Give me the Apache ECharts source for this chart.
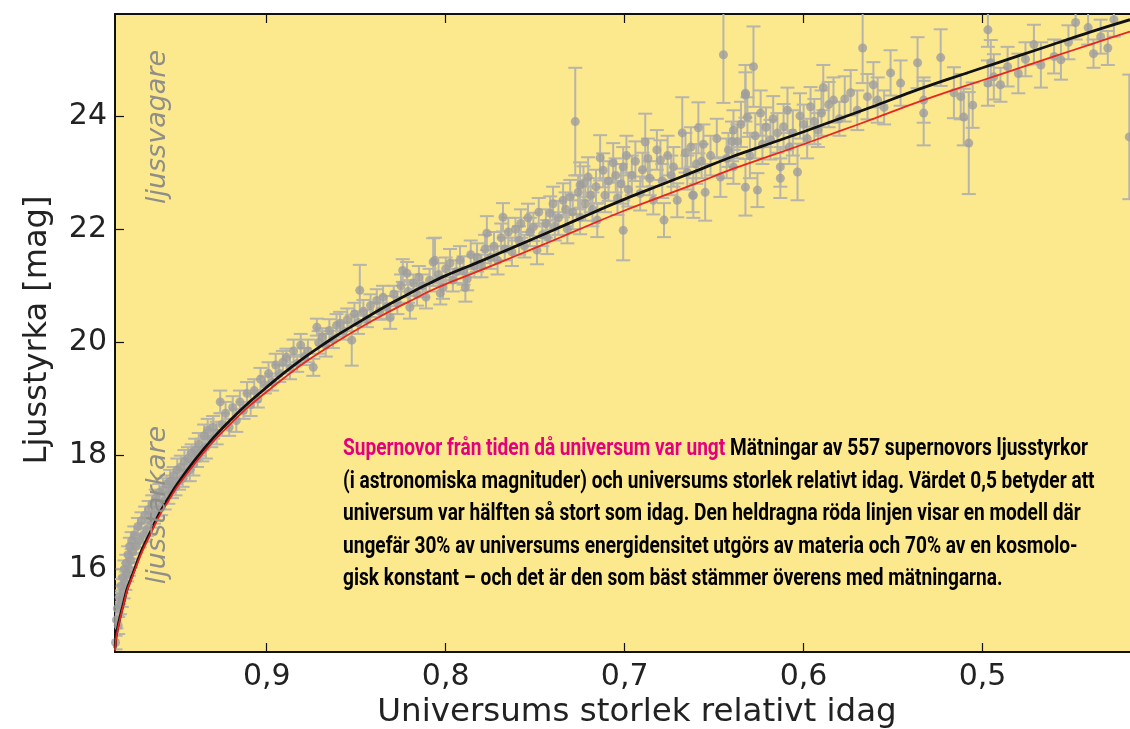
<!DOCTYPE html>
<html>
<head>
<meta charset="utf-8">
<script src="https://cdn.jsdelivr.net/npm/echarts@6/dist/echarts.min.js"></script>
<style>
html,body{margin:0;padding:0;background:#fff;}
#chart{width:1130px;height:729px;}
</style>
</head>
<body>
<div id="chart"></div>
<script>
// ---- DATA ----
const xTickValues = [0.9, 0.8, 0.7, 0.6, 0.5];
const yTickValues = [16, 18, 20, 22, 24];
const xAxisTitle = 'Universums storlek relativt idag';
const yAxisTitle = 'Ljusstyrka [mag]';
const fainterLabel = 'ljussvagare';
const brighterLabel = 'ljusstarkare';
const annotationTitle = 'Supernovor från tiden då universum var ungt';
const annotationLines = [
  'Mätningar av 557 supernovors ljusstyrkor',
  '(i astronomiska magnituder) och universums storlek relativt idag. Värdet 0,5 betyder att',
  'universum var hälften så stort som idag. Den heldragna röda linjen visar en modell där',
  'ungefär 30% av universums energidensitet utgörs av materia och 70% av en kosmolo-',
  'gisk konstant – och det är den som bäst stämmer överens med mätningarna.'
];

// model curves: scale factor, black curve, red curve (mag)
const modelScale = [0.9848,0.984,0.982,0.98,0.978,0.975,0.97,0.965,0.96,0.955,0.95,0.94,0.93,0.92,0.91,0.90,0.89,0.88,0.87,0.86,0.85,0.84,0.83,0.82,0.81,0.80,0.78,0.76,0.74,0.72,0.70,0.68,0.66,0.64,0.62,0.60,0.58,0.56,0.54,0.52,0.50,0.48,0.46,0.44,0.4176];
const modelBlack = [14.6,14.85,15.15,15.4,15.65,15.9,16.32,16.65,16.98,17.25,17.5,17.93,18.31,18.64,18.94,19.21,19.47,19.71,19.93,20.14,20.33,20.52,20.70,20.87,21.03,21.18,21.44,21.71,21.98,22.26,22.53,22.78,23.03,23.28,23.50,23.72,23.95,24.18,24.42,24.64,24.85,25.06,25.27,25.48,25.70];
const modelRed = [14.56,14.81,15.11,15.37,15.62,15.87,16.28,16.61,16.94,17.2,17.45,17.87,18.25,18.57,18.87,19.13,19.38,19.62,19.83,20.03,20.22,20.40,20.57,20.73,20.89,21.03,21.28,21.54,21.80,22.07,22.33,22.57,22.81,23.06,23.28,23.50,23.73,23.96,24.20,24.42,24.63,24.84,25.05,25.26,25.49];

// supernovae: [scale factor, magnitude, error]
const supernovae = [
[0.9845,14.7,0.12],[0.984,15.1,0.15],[0.9835,15.3,0.12],[0.983,15.0,0.15],[0.9825,15.5,0.12],[0.982,15.35,0.15],[0.9815,15.7,0.12],[0.981,15.45,0.12],[0.9805,15.85,0.15],[0.980,15.6,0.12],[0.9795,16.0,0.15],[0.979,15.75,0.12],[0.9785,16.1,0.15],[0.978,15.9,0.12],[0.9775,16.25,0.15],[0.977,16.0,0.12],[0.9765,16.4,0.15],[0.976,16.15,0.12],[0.9755,16.5,0.15],[0.975,16.3,0.12],[0.974,16.6,0.15],[0.973,16.4,0.12],[0.972,16.75,0.15],[0.971,16.5,0.12],[0.970,16.85,0.15],[0.969,16.6,0.12],[0.968,16.95,0.15],[0.967,16.7,0.12],[0.966,17.05,0.15],[0.965,16.85,0.12],[0.964,17.15,0.15],[0.963,16.95,0.15],[0.962,17.25,0.15],[0.961,17.05,0.12],[0.960,17.35,0.15],[0.959,17.1,0.15],[0.958,17.4,0.2],[0.957,17.2,0.15],[0.956,17.5,0.15],[0.955,17.3,0.15],[0.954,17.55,0.2],[0.953,17.4,0.15],[0.952,17.65,0.15],[0.951,17.45,0.15],[0.950,17.75,0.2],[0.949,17.55,0.15],[0.948,17.8,0.2],[0.947,17.6,0.15],[0.946,17.9,0.2],[0.945,17.7,0.15],[0.944,17.95,0.2],[0.943,17.75,0.2],[0.942,18.05,0.15],[0.941,17.85,0.2],[0.940,18.1,0.2],[0.939,17.95,0.15],[0.938,18.2,0.2],[0.936,18.1,0.2],[0.935,18.35,0.2],[0.934,18.15,0.2],[0.933,18.45,0.2],[0.931,18.3,0.15],[0.930,18.5,0.2],[0.928,18.4,0.2],[0.926,18.95,0.2],[0.925,18.55,0.2],[0.923,18.75,0.2],[0.921,18.5,0.15],[0.919,18.85,0.2],[0.917,18.62,0.2],[0.915,18.95,0.2],[0.913,18.8,0.15],[0.911,19.1,0.2],[0.909,18.9,0.2],[0.907,19.15,0.2],[0.905,19.0,0.15],
[0.9035,19.35,0.2],[0.901,19.25,0.15],[0.899,19.45,0.2],[0.897,19.3,0.15],[0.895,19.6,0.2],[0.893,19.45,0.15],[0.891,19.65,0.2],[0.889,19.74,0.15],[0.887,19.55,0.2],[0.885,19.85,0.2],[0.883,19.63,0.15],[0.881,19.95,0.2],[0.879,19.75,0.15],[0.877,19.85,0.2],[0.874,19.56,0.15],[0.872,20.27,0.15],[0.871,20.0,0.2],[0.869,20.1,0.15],[0.867,19.95,0.2],[0.865,20.21,0.2],[0.863,20.05,0.15],[0.861,20.3,0.2],[0.859,20.34,0.2],[0.857,20.2,0.15],[0.855,20.4,0.2],[0.8525,20.04,0.45],[0.851,20.5,0.2],[0.849,20.35,0.2],[0.848,20.92,0.45],[0.846,20.55,0.2],[0.844,20.42,0.15],[0.842,20.65,0.2],[0.8385,20.74,0.2],[0.837,20.55,0.15],[0.835,20.8,0.2],[0.833,20.62,0.2],[0.831,20.44,0.2],[0.829,20.85,0.15],[0.827,20.7,0.2],[0.825,21.0,0.2],[0.824,21.27,0.2],[0.8216,21.22,0.2],[0.821,20.9,0.2],[0.820,20.62,0.2],[0.818,21.05,0.15],[0.816,20.85,0.2],[0.815,21.15,0.2],[0.813,21.0,0.2],[0.811,20.8,0.2],[0.809,21.1,0.2],[0.807,21.42,0.42],[0.806,21.45,0.4],[0.804,21.2,0.2],[0.803,20.87,0.2],[0.8015,20.97,0.2],[0.800,21.3,0.2],[0.7976,21.4,0.25],[0.796,21.1,0.2],[0.794,21.25,0.2],[0.792,21.45,0.25],[0.790,21.27,0.25],[0.789,20.97,0.25],[0.788,21.12,0.2],[0.786,21.55,0.25],[0.784,21.35,0.2],[0.7825,21.5,0.25],[0.780,21.35,0.2],[0.778,21.65,0.25],[0.777,21.93,0.3],[0.775,21.5,0.2],[0.773,21.7,0.25],[0.771,21.45,0.25],
[0.769,21.85,0.25],[0.768,22.21,0.25],[0.767,21.65,0.2],[0.765,21.95,0.25],[0.763,21.6,0.25],[0.761,22.0,0.2],[0.759,21.8,0.25],[0.758,22.1,0.25],[0.756,21.7,0.2],[0.754,22.2,0.25],[0.753,21.95,0.25],[0.751,22.04,0.25],[0.749,21.63,0.25],[0.748,22.3,0.25],[0.746,21.9,0.2],[0.744,22.1,0.25],[0.7433,21.86,0.3],[0.7416,22.28,0.3],[0.740,22.45,0.3],[0.739,22.05,0.25],[0.737,22.2,0.3],[0.7344,22.51,0.3],[0.733,22.35,0.3],[0.732,22.0,0.25],[0.7304,22.57,0.3],[0.729,22.3,0.3],[0.7276,23.9,0.95],[0.726,22.65,0.3],[0.7249,22.78,0.4],[0.7249,22.21,0.3],[0.723,22.81,0.3],[0.722,22.45,0.3],[0.7204,22.92,0.35],[0.719,22.6,0.3],[0.718,22.35,0.3],[0.716,22.75,0.3],[0.7153,22.16,0.3],[0.7137,23.26,0.4],[0.712,23.04,0.3],[0.711,22.6,0.3],[0.709,22.85,0.35],[0.7064,23.17,0.35],[0.705,22.95,0.3],[0.704,22.55,0.3],[0.702,22.8,0.35],[0.7008,23.1,0.35],[0.7008,21.98,0.53],[0.699,23.3,0.35],[0.698,22.7,0.3],[0.696,22.95,0.35],[0.694,23.2,0.35],[0.6913,22.63,0.3],[0.690,23.05,0.3],[0.6885,23.54,0.5],[0.687,23.25,0.35],[0.686,22.9,0.3],[0.684,22.51,0.25],[0.682,23.4,0.35],[0.680,23.22,0.35],[0.679,22.85,0.3],[0.678,22.16,0.3],[0.676,23.3,0.35],[0.674,22.95,0.35],[0.6727,23.1,0.35],[0.6706,22.51,0.3],[0.6678,23.7,0.63],[0.666,23.35,0.35],[0.665,23.0,0.3],[0.663,23.45,0.35],[0.662,22.6,0.3],[0.6616,22.6,0.4],[0.660,23.15,0.35],[0.6588,23.79,0.45],[0.657,23.2,0.3],[0.656,23.5,0.35],[0.655,22.65,0.5],[0.652,23.3,0.35],
[0.6485,23.6,0.35],[0.6465,22.92,0.35],[0.6448,25.08,0.85],[0.643,23.25,0.35],[0.642,23.4,0.3],[0.640,23.55,0.35],[0.6392,23.75,0.35],[0.6392,23.1,0.3],[0.637,23.55,0.3],[0.635,23.85,0.4],[0.6325,24.4,0.5],[0.6325,22.74,0.5],[0.6325,24.37,0.4],[0.6314,23.98,0.35],[0.630,23.3,0.4],[0.628,24.87,0.71],[0.627,23.65,0.4],[0.6258,22.69,0.3],[0.624,24.05,0.4],[0.623,23.5,0.35],[0.621,23.8,0.35],[0.6185,23.58,0.35],[0.617,23.95,0.4],[0.6146,23.7,0.35],[0.613,23.1,0.35],[0.613,22.9,0.35],[0.6112,23.81,0.4],[0.609,24.1,0.4],[0.608,23.45,0.3],[0.606,23.7,0.4],[0.6034,23.01,0.5],[0.602,24.0,0.4],[0.600,23.85,0.35],[0.598,23.6,0.35],[0.5961,24.16,0.35],[0.594,23.9,0.4],[0.592,23.75,0.3],[0.590,24.05,0.4],[0.589,24.5,0.4],[0.586,24.2,0.4],[0.5833,24.28,0.4],[0.580,23.95,0.3],[0.577,24.3,0.4],[0.5737,24.41,0.4],[0.570,24.1,0.35],[0.567,25.2,0.62],[0.5643,24.34,0.4],[0.561,24.55,0.4],[0.5586,24.28,0.4],[0.555,24.15,0.3],
[0.5514,24.76,0.4],[0.5458,24.58,0.4],[0.5363,24.94,0.45],[0.5329,24.05,0.57],[0.5329,24.28,0.4],[0.5234,25.03,0.5],[0.516,24.41,0.45],[0.5122,24.34,0.4],[0.5105,23.98,0.5],[0.5077,23.52,0.9],[0.5055,24.19,0.4],[0.497,25.52,0.3],[0.497,24.58,0.4],[0.4954,24.94,0.4],[0.4937,24.69,0.4],[0.490,24.55,0.3],[0.486,24.87,0.35],[0.480,24.75,0.35],[0.476,25.0,0.3],[0.4713,25.26,0.35],[0.4674,24.9,0.4],[0.460,25.05,0.3],[0.4562,24.99,0.35],[0.452,25.3,0.3],[0.448,25.65,0.3],[0.441,25.56,0.3],[0.438,25.1,0.25],[0.434,25.4,0.3],[0.430,25.2,0.3],[0.4266,25.7,0.3],[0.418,23.63,1.1]
];

// ---- CHART ----
const GRID = {left:115, top:14, right:0, bottom:77};
const chart = echarts.init(document.getElementById('chart'), null, {renderer:'canvas'});

const fmtX = v => v.toFixed(1).replace('.', ',');

// condensed bold text via horizontal scaling
const annFont = 'bold 24px Roboto';
const mctx = document.createElement('canvas').getContext('2d');
mctx.font = annFont;
const line1Full = annotationTitle + ' ' + annotationLines[0];
const annScale = 745 / mctx.measureText(line1Full).width;
const titleW = mctx.measureText(annotationTitle + ' ').width * annScale;

const annX = 343, annY = 437, annLH = 32.5;
const annGraphics = [];
annGraphics.push({type:'text', x:annX, y:annY, scaleX:annScale, originX:0, z:100,
  style:{text:annotationTitle, font:annFont, fill:'#e4007c', verticalAlign:'top'}});
annotationLines.forEach((t, i) => {
  annGraphics.push({type:'text', x: i === 0 ? annX + titleW : annX, y: annY + i*annLH,
    scaleX:annScale, originX:0, z:100,
    style:{text:t, font:annFont, fill:'#000', verticalAlign:'top'}});
});

const option = {
  animation:false,
  backgroundColor:'#ffffff',
  grid:{left:GRID.left, top:GRID.top, right:GRID.right, bottom:GRID.bottom, show:true, backgroundColor:'#fde98d', borderWidth:0},
  xAxis:[{
    type:'value', inverse:true, min:0.4176, max:0.9848, position:'bottom',
    axisLine:{show:true, onZero:false, lineStyle:{color:'#111', width:2}},
    axisTick:{show:true, inside:true, length:9, lineStyle:{color:'#111', width:1.2}, customValues:xTickValues},
    axisLabel:{show:true, customValues:xTickValues, formatter:fmtX, margin:10, color:'#222', fontFamily:'DejaVu Sans', fontSize:30},
    splitLine:{show:false}
  },{
    type:'value', inverse:true, min:0.4176, max:0.9848, position:'top',
    axisLine:{show:true, onZero:false, lineStyle:{color:'#111', width:2}},
    axisTick:{show:true, inside:true, length:9, lineStyle:{color:'#111', width:1.2}, customValues:xTickValues},
    axisLabel:{show:false},
    splitLine:{show:false}
  }],
  yAxis:[{
    type:'value', min:14.533, max:25.80, position:'left',
    axisLine:{show:true, onZero:false, lineStyle:{color:'#111', width:2}},
    axisTick:{show:true, inside:true, length:9, lineStyle:{color:'#111', width:1.2}, customValues:yTickValues},
    axisLabel:{show:true, customValues:yTickValues, margin:8, color:'#222', fontFamily:'DejaVu Sans', fontSize:30},
    splitLine:{show:false}
  }],
  series:[
    {
      type:'custom', name:'errorbars', clip:true, z:2,
      data: supernovae,
      encode:{x:0, y:1},
      renderItem:function(params, api){
        const x = api.value(0), y = api.value(1), e = api.value(2);
        const top = api.coord([x, y + e]);
        const bot = api.coord([x, y - e]);
        const hw = 7;
        const st = {stroke:'#b7b4aa', lineWidth:2};
        return {type:'group', children:[
          {type:'line', shape:{x1:top[0], y1:top[1], x2:bot[0], y2:bot[1]}, style:st},
          {type:'line', shape:{x1:top[0]-hw, y1:top[1], x2:top[0]+hw, y2:top[1]}, style:st},
          {type:'line', shape:{x1:bot[0]-hw, y1:bot[1], x2:bot[0]+hw, y2:bot[1]}, style:st}
        ]};
      }
    },
    {
      type:'scatter', name:'supernovae', z:3, symbol:'circle', symbolSize:9,
      data: supernovae.map(d => [d[0], d[1]]),
      itemStyle:{color:'#9e9e9e'},
      clip:true
    },
    {
      type:'line', name:'model black', z:4, showSymbol:false, smooth:0.3,
      data: modelScale.map((a, i) => [a, modelBlack[i]]),
      lineStyle:{color:'#111', width:2.8}, clip:true
    },
    {
      type:'line', name:'model red', z:5, showSymbol:false, smooth:0.3,
      data: modelScale.map((a, i) => [a, modelRed[i]]),
      lineStyle:{color:'#e8251e', width:1.8}, clip:true
    }
  ],
  graphic:[
    {type:'text', x:38, y:330, rotation:Math.PI/2, z:100,
      style:{text:yAxisTitle, font:'32px "DejaVu Sans"', fill:'#222', align:'center', verticalAlign:'middle'}},
    {type:'text', x:637, y:713, z:100,
      style:{text:xAxisTitle, font:'32.5px "DejaVu Sans"', fill:'#222', align:'center', verticalAlign:'middle'}},
    {type:'text', x:158, y:127, rotation:Math.PI/2, z:100,
      style:{text:fainterLabel, font:'italic 27px "DejaVu Sans"', fill:'#8f8e88', align:'center', verticalAlign:'middle'}},
    {type:'text', x:158, y:505, rotation:Math.PI/2, z:100,
      style:{text:brighterLabel, font:'italic 27px "DejaVu Sans"', fill:'#8f8e88', align:'center', verticalAlign:'middle'}}
  ].concat(annGraphics)
};
chart.setOption(option);
</script>
</body>
</html>
